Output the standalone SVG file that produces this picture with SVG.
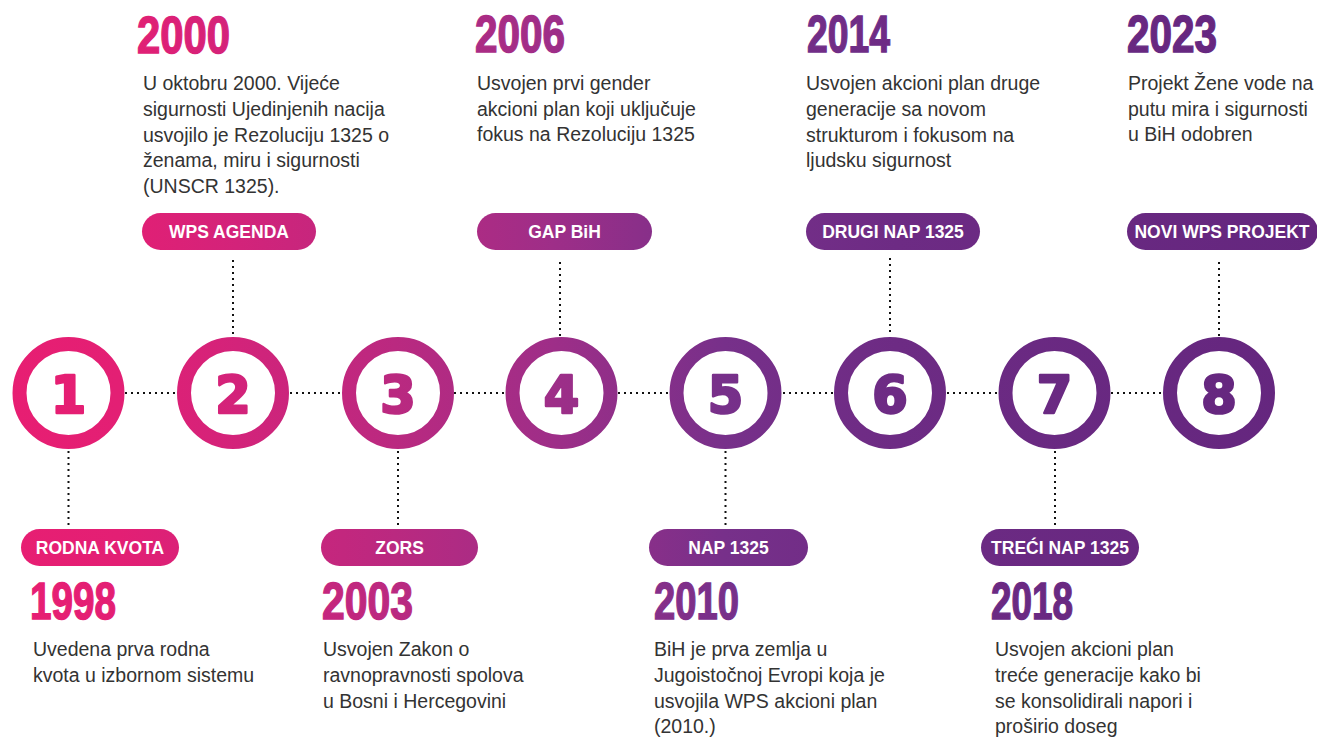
<svg xmlns="http://www.w3.org/2000/svg" width="1317" height="737" viewBox="0 0 1317 737">
  <defs>
    <linearGradient id="g" gradientUnits="userSpaceOnUse" x1="0" y1="0" x2="1317" y2="0">
      <stop offset="0" stop-color="#E81E72"/>
      <stop offset="0.09" stop-color="#E31F74"/>
      <stop offset="0.18" stop-color="#D3237A"/>
      <stop offset="0.30" stop-color="#BA2980"/>
      <stop offset="0.42" stop-color="#9E2E88"/>
      <stop offset="0.55" stop-color="#77308A"/>
      <stop offset="0.68" stop-color="#6D2B84"/>
      <stop offset="1" stop-color="#64267E"/>
    </linearGradient>
    <style>
      .ring { fill: #fff; stroke: url(#g); stroke-width: 14; }
      .num { font-family: "DejaVu Sans", sans-serif; font-weight: bold; font-size: 51px; fill: url(#g); stroke: url(#g); stroke-width: 2.6; stroke-linejoin: round; text-anchor: middle; }
      .pill { fill: url(#g); }
      .pt { font-family: "Liberation Sans", Arial, sans-serif; font-weight: bold; font-size: 17.5px; fill: #fff; text-anchor: middle; }
      .yr { font-family: "Liberation Sans", Arial, sans-serif; font-weight: bold; font-size: 51px; fill: url(#g); stroke: url(#g); stroke-width: 1.4; }
      .bd { font-family: "Liberation Sans", Arial, sans-serif; font-size: 19.5px; fill: #333; }
      .dot { stroke: #111; stroke-width: 2; stroke-dasharray: 2 4; fill: none; }
    </style>
  </defs>
  <rect width="1317" height="737" fill="#fff"/>

  <g id="connectors">
    <line class="dot" x1="125" y1="393" x2="177" y2="393"/>
    <line class="dot" x1="290" y1="393" x2="341" y2="393"/>
    <line class="dot" x1="454" y1="393" x2="505" y2="393"/>
    <line class="dot" x1="618" y1="393" x2="670" y2="393"/>
    <line class="dot" x1="783" y1="393" x2="834" y2="393"/>
    <line class="dot" x1="947" y1="393" x2="998" y2="393"/>
    <line class="dot" x1="1111" y1="393" x2="1163" y2="393"/>
    <line class="dot" x1="68.5" y1="451" x2="68.5" y2="527"/>
    <line class="dot" x1="398" y1="451" x2="398" y2="527"/>
    <line class="dot" x1="725.5" y1="451" x2="725.5" y2="527"/>
    <line class="dot" x1="1055" y1="451" x2="1055" y2="527"/>
    <line class="dot" x1="233" y1="260" x2="233" y2="336"/>
    <line class="dot" x1="560" y1="262" x2="560" y2="336"/>
    <line class="dot" x1="890" y1="258" x2="890" y2="336"/>
    <line class="dot" x1="1219" y1="262" x2="1219" y2="336"/>
  </g>

  <g id="n1">
    <circle class="ring" cx="68.5" cy="393" r="49"/>
    <text class="num" x="68.5" y="413">1</text>
    <rect class="pill" x="21" y="529" width="158" height="37" rx="18.5"/>
    <text class="pt" x="100" y="553.5">RODNA KVOTA</text>
    <text class="yr" x="30" y="619" textLength="86" lengthAdjust="spacingAndGlyphs">1998</text>
    <text class="bd"><tspan x="33" y="656">Uvedena prva rodna</tspan><tspan x="33" y="682">kvota u izbornom sistemu</tspan></text>
  </g>

  <g id="n2">
    <circle class="ring" cx="233" cy="393" r="49"/>
    <text class="num" x="233" y="413">2</text>
    <rect class="pill" x="142" y="213" width="174" height="37" rx="18.5"/>
    <text class="pt" x="229" y="237.5">WPS AGENDA</text>
    <text class="yr" x="137" y="53" textLength="93" lengthAdjust="spacingAndGlyphs">2000</text>
    <text class="bd"><tspan x="143" y="90">U oktobru 2000. Vijeće</tspan><tspan x="143" y="116">sigurnosti Ujedinjenih nacija</tspan><tspan x="143" y="142">usvojilo je Rezoluciju 1325 o</tspan><tspan x="143" y="167">ženama, miru i sigurnosti</tspan><tspan x="143" y="193">(UNSCR 1325).</tspan></text>
  </g>

  <g id="n3">
    <circle class="ring" cx="398" cy="393" r="49"/>
    <text class="num" x="398" y="413">3</text>
    <rect class="pill" x="321" y="529" width="157" height="37" rx="18.5"/>
    <text class="pt" x="399.5" y="553.5">ZORS</text>
    <text class="yr" x="322" y="619" textLength="91" lengthAdjust="spacingAndGlyphs">2003</text>
    <text class="bd"><tspan x="323" y="656">Usvojen Zakon o</tspan><tspan x="323" y="682">ravnopravnosti spolova</tspan><tspan x="323" y="708">u Bosni i Hercegovini</tspan></text>
  </g>

  <g id="n4">
    <circle class="ring" cx="561.5" cy="393" r="49"/>
    <text class="num" x="561.5" y="413">4</text>
    <rect class="pill" x="477" y="213" width="175" height="37" rx="18.5"/>
    <text class="pt" x="564.5" y="237.5">GAP BiH</text>
    <text class="yr" x="475" y="52" textLength="90" lengthAdjust="spacingAndGlyphs">2006</text>
    <text class="bd"><tspan x="477" y="90">Usvojen prvi gender</tspan><tspan x="477" y="116">akcioni plan koji uključuje</tspan><tspan x="477" y="141">fokus na Rezoluciju 1325</tspan></text>
  </g>

  <g id="n5">
    <circle class="ring" cx="725.5" cy="393" r="49"/>
    <text class="num" x="725.5" y="413">5</text>
    <rect class="pill" x="649" y="529" width="159" height="37" rx="18.5"/>
    <text class="pt" x="728.5" y="553.5">NAP 1325</text>
    <text class="yr" x="654" y="619" textLength="85" lengthAdjust="spacingAndGlyphs">2010</text>
    <text class="bd"><tspan x="654" y="656">BiH je prva zemlja u</tspan><tspan x="654" y="682">Jugoistočnoj Evropi koja je</tspan><tspan x="654" y="708">usvojila WPS akcioni plan</tspan><tspan x="654" y="733">(2010.)</tspan></text>
  </g>

  <g id="n6">
    <circle class="ring" cx="890" cy="393" r="49"/>
    <text class="num" x="890" y="413">6</text>
    <rect class="pill" x="806" y="213" width="174" height="37" rx="18.5"/>
    <text class="pt" x="893" y="237.5">DRUGI NAP 1325</text>
    <text class="yr" x="807" y="52" textLength="83" lengthAdjust="spacingAndGlyphs">2014</text>
    <text class="bd"><tspan x="806" y="90">Usvojen akcioni plan druge</tspan><tspan x="806" y="116">generacije sa novom</tspan><tspan x="806" y="142">strukturom i fokusom na</tspan><tspan x="806" y="167">ljudsku sigurnost</tspan></text>
  </g>

  <g id="n7">
    <circle class="ring" cx="1054.5" cy="393" r="49"/>
    <text class="num" x="1054.5" y="413">7</text>
    <rect class="pill" x="981" y="529" width="158" height="37" rx="18.5"/>
    <text class="pt" x="1060" y="553.5">TREĆI NAP 1325</text>
    <text class="yr" x="991" y="619" textLength="82" lengthAdjust="spacingAndGlyphs">2018</text>
    <text class="bd"><tspan x="995" y="656">Usvojen akcioni plan</tspan><tspan x="995" y="682">treće generacije kako bi</tspan><tspan x="995" y="708">se konsolidirali napori i</tspan><tspan x="995" y="733">proširio doseg</tspan></text>
  </g>

  <g id="n8">
    <circle class="ring" cx="1219" cy="393" r="49"/>
    <text class="num" x="1219" y="413">8</text>
    <rect class="pill" x="1127" y="213" width="191" height="37" rx="18.5"/>
    <text class="pt" x="1222" y="237.5">NOVI WPS PROJEKT</text>
    <text class="yr" x="1127" y="52" textLength="90" lengthAdjust="spacingAndGlyphs">2023</text>
    <text class="bd"><tspan x="1128" y="90">Projekt Žene vode na</tspan><tspan x="1128" y="116">putu mira i sigurnosti</tspan><tspan x="1128" y="141">u BiH odobren</tspan></text>
  </g>
</svg>
